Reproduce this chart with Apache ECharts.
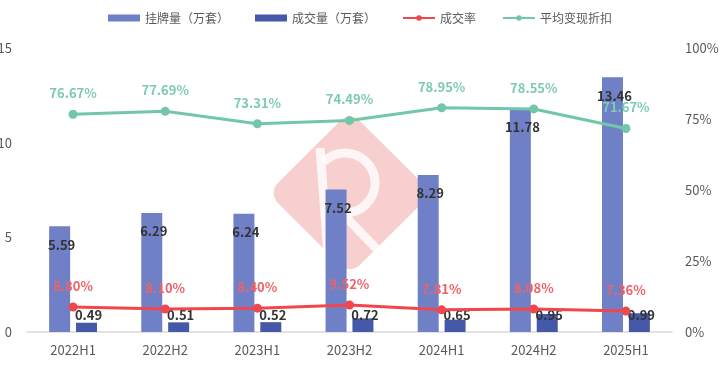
<!DOCTYPE html>
<html>
<head>
<meta charset="utf-8">
<script src="https://cdn.jsdelivr.net/npm/echarts@6/dist/echarts.min.js"></script>
<style>html,body{margin:0;padding:0;background:#fff}#c{width:720px;height:367px}</style>
</head>
<body>
<div id="c"></div>
<script>
var categories = ['2022H1','2022H2','2023H1','2023H2','2024H1','2024H2','2025H1'];
var listings = [5.59, 6.29, 6.24, 7.52, 8.29, 11.78, 13.46];
var deals = [0.49, 0.51, 0.52, 0.72, 0.65, 0.95, 0.99];
var dealRate = [8.80, 8.10, 8.40, 9.52, 7.81, 8.08, 7.36];
var discount = [76.67, 77.69, 73.31, 74.49, 78.95, 78.55, 71.67];
var leftTicks = {min: 0, max: 15, interval: 5};
var rightTicks = {min: 0, max: 100, interval: 25};

var FONT = '"Noto Sans CJK SC","Noto Sans",sans-serif';
var chart = echarts.init(document.getElementById('c'), null, {renderer: 'canvas'});
var option = {
  backgroundColor: '#fff',
  textStyle: {fontFamily: FONT},
  animation: false,
  legend: {
    top: 7,
    left: 'center',
    itemWidth: 32,
    itemHeight: 7,
    itemGap: 26,
    textStyle: {fontSize: 12, color: '#595959', fontFamily: FONT},
    data: [
      {name: '挂牌量（万套）', icon: 'rect'},
      {name: '成交量（万套）', icon: 'rect'},
      '成交率',
      '平均变现折扣'
    ]
  },
  grid: {left: 27, right: 48, top: 48, bottom: 35, containLabel: false, outerBoundsMode: 'none'},
  xAxis: {
    type: 'category',
    data: categories,
    axisLine: {lineStyle: {color: '#d9d9d9', width: 1.5}},
    axisTick: {show: false},
    axisLabel: {color: '#595959', fontSize: 13, margin: 12, fontFamily: FONT}
  },
  yAxis: [
    {
      type: 'value', min: leftTicks.min, max: leftTicks.max, interval: leftTicks.interval,
      splitLine: {show: false}, axisLine: {show: false}, axisTick: {show: false},
      axisLabel: {color: '#595959', fontSize: 13, margin: 15, fontFamily: FONT}
    },
    {
      type: 'value', min: rightTicks.min, max: rightTicks.max, interval: rightTicks.interval,
      splitLine: {show: false}, axisLine: {show: false}, axisTick: {show: false},
      axisLabel: {color: '#595959', fontSize: 13, margin: 13, formatter: '{value}%', fontFamily: FONT}
    }
  ],
  series: [
    {
      name: '挂牌量（万套）', type: 'bar', data: listings, barWidth: 21, barGap: '28%',
      itemStyle: {color: '#7080c6'},
      label: {show: true, position: 'insideTop', distance: 12, offset: [2, 0],
        color: '#333', fontWeight: 'bold', fontSize: 13, fontFamily: FONT}
    },
    {
      name: '成交量（万套）', type: 'bar', data: deals, barWidth: 21,
      itemStyle: {color: '#4658a8'},
      label: {show: true, position: 'insideBottom', distance: 10, offset: [2, 0],
        color: '#333', fontWeight: 'bold', fontSize: 13, fontFamily: FONT}
    },
    {
      name: '成交率', type: 'line', yAxisIndex: 1, data: dealRate,
      symbol: 'circle', symbolSize: 9,
      lineStyle: {color: '#f0464c', width: 3}, itemStyle: {color: '#f0464c'},
      label: {show: true, position: 'top', distance: 10, color: '#f06167', fontWeight: 'bold', fontSize: 13,
        fontFamily: FONT, formatter: function (p) { return p.value.toFixed(2) + '%'; }}
    },
    {
      name: '平均变现折扣', type: 'line', yAxisIndex: 1, data: discount,
      symbol: 'circle', symbolSize: 9,
      lineStyle: {color: '#72c7aa', width: 3}, itemStyle: {color: '#72c7aa'},
      label: {show: true, position: 'top', distance: 10, color: '#7ccbb1', fontWeight: 'bold', fontSize: 13,
        fontFamily: FONT, formatter: function (p) { return p.value.toFixed(2) + '%'; }}
    }
  ],
  graphic: [
    {
      type: 'group', x: 350, y: 193, z: 100, silent: true,
      children: [
        {type: 'rect', rotation: Math.PI / 4, shape: {x: -58, y: -58, width: 116, height: 116, r: 14},
          style: {fill: 'rgba(232,110,110,0.33)'}},
        {type: 'line', shape: {x1: -30, y1: -45, x2: -22, y2: 62}, style: {stroke: 'rgba(255,255,255,0.8)', lineWidth: 9}},
        {type: 'arc', shape: {cx: -5, cy: -10, r: 30, startAngle: -Math.PI * 0.75, endAngle: Math.PI * 0.6},
          style: {stroke: 'rgba(255,255,255,0.8)', lineWidth: 9, fill: 'none'}},
        {type: 'line', shape: {x1: -8, y1: 20, x2: 45, y2: 75}, style: {stroke: 'rgba(255,255,255,0.8)', lineWidth: 9}}
      ]
    }
  ]
};
chart.setOption(option);
</script>
</body>
</html>
